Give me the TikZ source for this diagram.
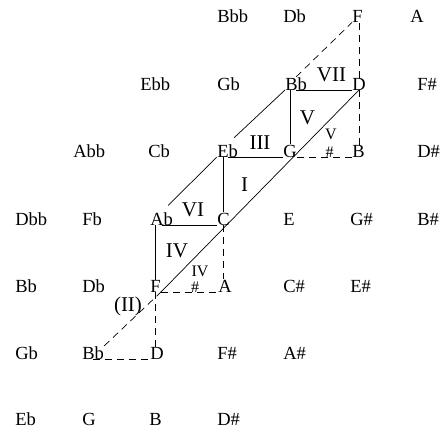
\documentclass[tikz,border=0pt]{standalone}
\usepackage{fontspec}
\setmainfont{Liberation Serif}
\usepackage{tikz}

\begin{document}
\begin{tikzpicture}[x=1pt, y=-1pt, line width=0.7pt,
    note/.style={anchor=base west, inner sep=0pt, font=\fontsize{18.5}{20}\selectfont},
    degree/.style={inner sep=0pt, font=\fontsize{21}{23}\selectfont},
    altered/.style={inner sep=0pt, font=\fontsize{16}{18}\selectfont},
    gap/.style={dash pattern=on 7pt off 5pt}]
  \useasboundingbox (0,0) rectangle (448,431);

  % Note grid, one row at a time
  \foreach \nm/\x/\txt in {Bbb/217/Bbb, Db/283/Db, F/352/F, A/410/A}
    \node[note] (\nm-0) at (\x,22.5) {\txt};
  \foreach \nm/\x/\txt in {Ebb/140/Ebb, Gb/217/Gb, Bb/285/Bb, D/352/D, Fs/417/F\#}
    \node[note] (\nm-1) at (\x,90) {\txt};
  \foreach \nm/\x/\txt in {Abb/73/Abb, Cb/148/Cb, Eb/217/Eb, G/283/G, B/352/B, Ds/417/D\#}
    \node[note] (\nm-2) at (\x,157) {\txt};
  \foreach \nm/\x/\txt in {Dbb/15/Dbb, Fb/82/Fb, Ab/150/Ab, C/217/C, E/283/E, Gs/350/G\#, Bs/417/B\#}
    \node[note] (\nm-3) at (\x,225) {\txt};
  \foreach \nm/\x/\txt in {Bb/15/Bb, Db/82/Db, F/150/F, A/218/A, Cs/283/C\#, Es/350/E\#}
    \node[note] (\nm-4) at (\x,292) {\txt};
  \foreach \nm/\x/\txt in {Gb/15/Gb, Bb/82/Bb, D/150/D, Fs/217/F\#, As/283/A\#}
    \node[note] (\nm-5) at (\x,359) {\txt};
  \foreach \nm/\x/\txt in {Eb/15/Eb, G/82/G, B/149/B, Ds/217/D\#}
    \node[note] (\nm-6) at (\x,425.5) {\txt};

  % Triads
  \draw (Bb-1.base) -- (D-1.base west);
  \draw (Eb-2.base) -- (G-2.base west);
  \draw (Ab-3.base) -- (C-3.base west);
  \draw (G-2.north |- Bb-1.base) -- (G-2.north);
  \draw (C-3.north |- Eb-2.base) -- (C-3.north);
  \draw (F-4.north |- Ab-3.base) -- (F-4.north);
  \draw[shorten <=9pt] (Ab-3.north) -- (Eb-2.base west);
  \draw[shorten <=9pt] (Eb-2.north) -- (Bb-1.base west);
  \draw (F-4.base east) -- (D-1.base);

  % Completions
  \draw[gap] (Bb-1.north) -- (F-0.base west);
  \draw[gap] (D-1.north |- F-0.base) -- (D-1.north);
  \draw[gap] (D-1.base) -- (D-1.base |- B-2.north);
  \draw[gap] (G-2.base east) -- (B-2.base west);
  \draw[gap] (C-3.base) -- (C-3.base |- A-4.north);
  \draw[gap] (F-4.base east) -- (A-4.base west);
  \draw[gap] (F-4.base) -- (F-4.base |- D-5.north);
  \draw[gap] (Bb-5.base) -- (D-5.base west);
  \draw[gap] (Bb-5.north east) -- (F-4.base east);

  % Degrees
  \node[degree] (VII) at (331.5,75) {VII};
  \node[degree] (Vmaj) at (307.5,117.5) {V};
  \node[degree] (III) at (260,142.5) {III};
  \node[degree] (I) at (244.5,184.5) {I};
  \node[degree] (VI) at (193,209.5) {VI};
  \node[degree] (IV) at (177,250.5) {IV};
  \node[degree] (II) at (128,306) {(II)};
  \node[altered] (Vaug) at (331,134) {V};
  \node[altered] (Vsharp) at (329.5,152) {\#};
  \node[altered] (IVaug) at (200,271) {IV};
  \node[altered] (IVsharp) at (195,287) {\#};
\end{tikzpicture}
\end{document}
